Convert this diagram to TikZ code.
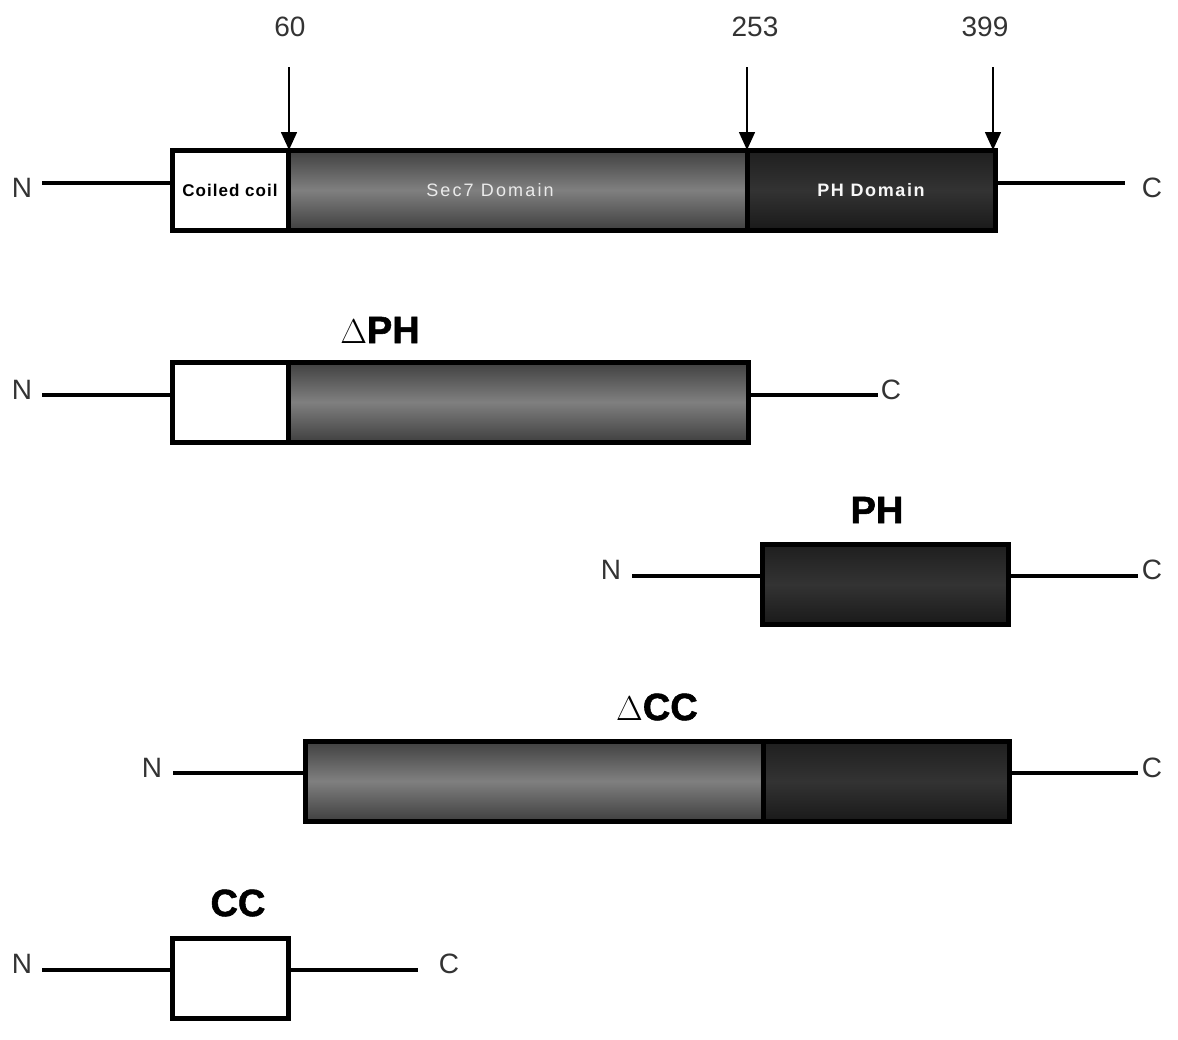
\documentclass[tikz,border=0pt]{standalone}
\usepackage{fontspec}
\setmainfont{Liberation Sans}
\newfontfamily\heavyfont[FakeBold=1.5]{Liberation Sans Bold}
\usetikzlibrary{arrows.meta}
\begin{document}
\begin{tikzpicture}[x=0.5pt,y=-0.5pt]
\tikzset{
  dom/.style={draw=black, line width=2.5pt, minimum height=40pt, inner sep=0pt, outer sep=0pt},
  ccbox/.style={dom, fill=white},
  secbox/.style={dom, top color=black!75, bottom color=black!75, middle color=black!50},
  phbox/.style={dom, top color=black!88, bottom color=black!90, middle color=black!80},
  chain/.style={line width=2pt, black},
  term/.style={font=\fontsize{14}{14}\selectfont, text=black!80, inner sep=0pt},
  num/.style={font=\fontsize{14}{14}\selectfont, text=black!80, inner sep=0pt},
  title/.style={font=\fontsize{19}{19}\heavyfont, inner sep=0pt},
  cut/.style={line width=0.8pt, -{Triangle[width=8pt,length=9pt]}},
}
\useasboundingbox (0,0) rectangle (1178,1039);

% ---------- Row 1: full length ----------
\node[ccbox, minimum width=58pt] (cc1) at (230,190) {};
\node[secbox, minimum width=229.5pt] (sec1) at (517.5,190) {};
\node[phbox, minimum width=124pt] (ph1) at (871,190) {};
\node[font=\fontsize{8.5}{8.5}\selectfont\bfseries\addfontfeature{LetterSpace=6}, inner sep=0pt] (cct) at (230,190) {Coiled coil};
\node[font=\fontsize{9}{9}\selectfont\addfontfeature{LetterSpace=12}, text=black!8, inner sep=0pt] (sect) at (490,190) {Sec7 Domain};
\node[font=\fontsize{9}{9}\selectfont\bfseries\addfontfeature{LetterSpace=9}, text=black!3, inner sep=0pt] (pht) at (871,190) {PH Domain};
\node[term] (n1) at (22,188) {N};
\node[term] (c1) at (1152,188) {C};
\coordinate (n1e) at (42,183);
\coordinate (c1e) at (1125,183);
\draw[chain] (n1e) -- (n1e -| cc1.west);
\draw[chain] (ph1.east |- c1e) -- (c1e);
\node[num] (l60) at (290,27) {60};
\node[num] (l253) at (755,27) {253};
\node[num] (l399) at (985,27) {399};
\coordinate (a60) at (289,67);
\coordinate (a253) at (747,67);
\coordinate (a399) at (993,67);
\draw[cut] (a60) -- (a60 |- cc1.north);
\draw[cut] (a253) -- (a253 |- sec1.north);
\draw[cut] (a399) -- (a399 |- ph1.north);

% ---------- Row 2: Delta PH ----------
\node[ccbox, minimum width=58pt] (cc2) at (230,402) {};
\node[secbox, minimum width=230pt] (sec2) at (518,402) {};
\node[title] (t2) at (380,330) {$\Delta$PH};
\node[term] (n2) at (22,390) {N};
\node[term] (c2) at (891,390) {C};
\coordinate (n2e) at (42,395);
\coordinate (c2e) at (878,395);
\draw[chain] (n2e) -- (n2e -| cc2.west);
\draw[chain] (sec2.east |- c2e) -- (c2e);

% ---------- Row 3: PH ----------
\node[phbox, minimum width=123pt] (ph3) at (885,584.5) {};
\node[title] (t3) at (877,510) {PH};
\node[term] (n3) at (611,570) {N};
\node[term] (c3) at (1152,570) {C};
\coordinate (n3e) at (632,576);
\coordinate (c3e) at (1138,576);
\draw[chain] (n3e) -- (n3e -| ph3.west);
\draw[chain] (ph3.east |- c3e) -- (c3e);

% ---------- Row 4: Delta CC ----------
\node[secbox, minimum width=229pt] (sec4) at (534,781) {};
\node[phbox, minimum width=123pt] (ph4) at (886,781) {};
\node[title] (t4) at (657,707) {$\Delta$CC};
\node[term] (n4) at (152,768) {N};
\node[term] (c4) at (1152,768) {C};
\coordinate (n4e) at (173,773);
\coordinate (c4e) at (1138,773);
\draw[chain] (n4e) -- (n4e -| sec4.west);
\draw[chain] (ph4.east |- c4e) -- (c4e);

% ---------- Row 5: CC ----------
\node[ccbox, minimum width=58pt] (cc5) at (230,978.5) {};
\node[title] (t5) at (238,903) {CC};
\node[term] (n5) at (22,964) {N};
\node[term] (c5) at (449,964) {C};
\coordinate (n5e) at (42,970);
\coordinate (c5e) at (418,970);
\draw[chain] (n5e) -- (n5e -| cc5.west);
\draw[chain] (cc5.east |- c5e) -- (c5e);
\end{tikzpicture}
\end{document}
